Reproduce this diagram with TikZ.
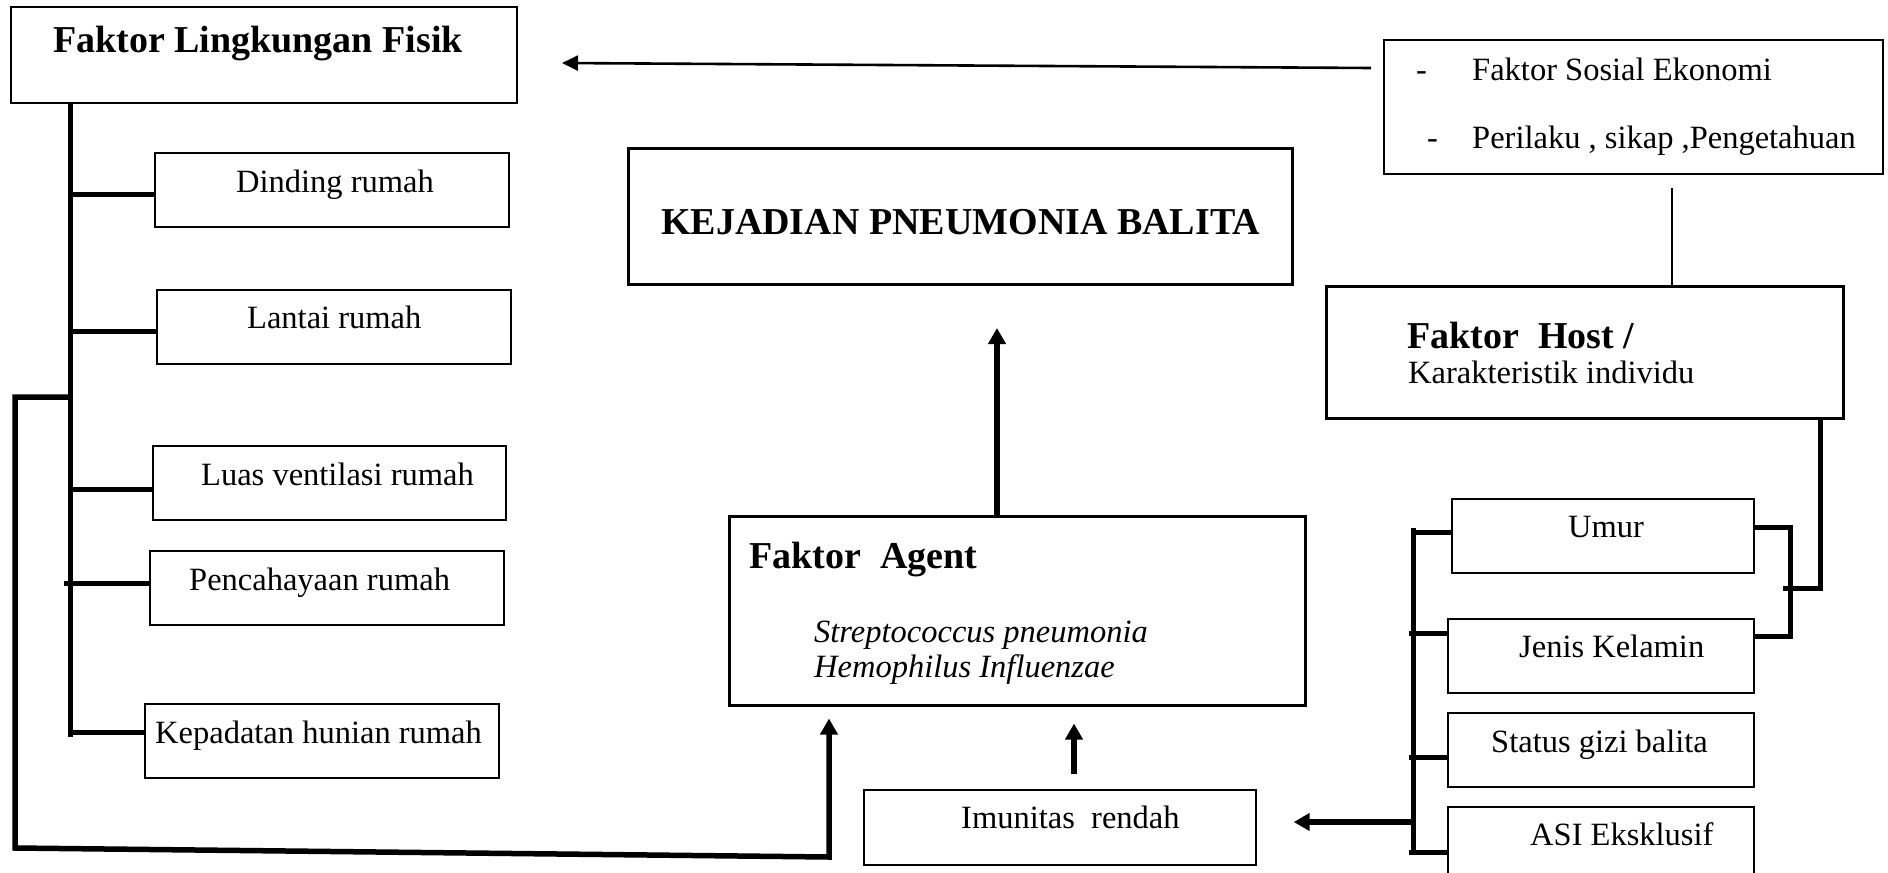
\documentclass[tikz,border=0pt]{standalone}
\usepackage{fontspec}
\setmainfont{Liberation Serif}
\usetikzlibrary{arrows.meta}
\begin{document}
\begin{tikzpicture}[x=1pt,y=-1pt,
 box/.style={draw,line width=1.4pt,inner sep=0pt},
 bbox/.style={draw,line width=3pt,inner sep=0pt},
 txt/.style={inner sep=0pt,anchor=base west,font=\fontsize{32.5}{39}\selectfont},
 btxt/.style={inner sep=0pt,anchor=base west,font=\fontsize{38}{45}\selectfont\bfseries},
 itxt/.style={inner sep=0pt,anchor=base west,font=\fontsize{32.5}{39}\selectfont\itshape},
 conn/.style={line width=5pt},
 arr/.style={line width=5.5pt,-{Triangle[length=16pt,width=17pt]}},
 tarr/.style={line width=2.6pt,-{Triangle[length=16pt,width=15pt]}},
 tline/.style={line width=2pt}]
\useasboundingbox (0,0) rectangle (1888,873);
\fill[white] (0,0) rectangle (1888,873);
\clip (0,0) rectangle (1888,873);

% boxes
\node[box,minimum width=506pt,minimum height=96pt] (flf) at (264,55) {};
\node[box,minimum width=354pt,minimum height=74pt] (din) at (332,190) {};
\node[box,minimum width=354pt,minimum height=74pt] (lan) at (334,327) {};
\node[box,minimum width=353pt,minimum height=74pt] (luas) at (329.5,483) {};
\node[box,minimum width=354pt,minimum height=74pt] (pen) at (327,588) {};
\node[box,minimum width=354pt,minimum height=74pt] (kep) at (322,741) {};
\node[bbox,minimum width=664pt,minimum height=136pt] (kej) at (960,216) {};
\node[bbox,minimum width=576pt,minimum height=189pt] (agent) at (1017,610.5) {};
\node[box,minimum width=392pt,minimum height=75pt] (imun) at (1060,827.5) {};
\node[box,minimum width=499pt,minimum height=134pt] (sos) at (1633.5,107) {};
\node[bbox,minimum width=517pt,minimum height=132pt] (host) at (1584.5,352) {};
\node[box,minimum width=302pt,minimum height=74pt] (umur) at (1603,536) {};
\node[box,minimum width=306pt,minimum height=74pt] (jenis) at (1601,656) {};
\node[box,minimum width=306pt,minimum height=74pt] (status) at (1601,750) {};
\node[box,minimum width=306pt,minimum height=74pt] (asi) at (1601,844) {};

% texts
\node[btxt] (tflf) at (53,52) {Faktor Lingkungan Fisik};
\node[txt] (tdin) at (236,192) {Dinding rumah};
\node[txt] (tlan) at (247,328) {Lantai rumah};
\node[txt] (tluas) at (201,485) {Luas ventilasi rumah};
\node[txt] (tpen) at (189,590) {Pencahayaan rumah};
\node[txt] (tkep) at (155,743) {Kepadatan hunian rumah};
\node[btxt] (tkej) at (661,234) {KEJADIAN PNEUMONIA BALITA};
\node[btxt] (tag) at (749,568) {Faktor~ Agent};
\node[itxt] (tag1) at (814,642) {Streptococcus pneumonia};
\node[itxt] (tag2) at (814,677) {Hemophilus Influenzae};
\node[txt] (timun) at (961,828) {Imunitas~ rendah};
\node[txt] (td1) at (1416,80) {-};
\node[txt] (tsos1) at (1472,80) {Faktor Sosial Ekonomi};
\node[txt] (td2) at (1427,148) {-};
\node[txt] (tsos2) at (1472,148) {Perilaku , sikap ,Pengetahuan};
\node[btxt] (thost) at (1407,348) {Faktor~ Host /};
\node[txt] (thost2) at (1408,383) {Karakteristik individu};
\node[txt] (tumur) at (1568,537) {Umur};
\node[txt] (tjen) at (1519,657) {Jenis Kelamin};
\node[txt] (tstat) at (1491,752) {Status gizi balita};
\node[txt] (tasi) at (1530,845) {ASI Eksklusif};

% left trunk and branches
\coordinate (tb) at (70,737);
\draw[conn] (flf.south -| tb) -- (tb);
\coordinate (jd) at (70,194);
\coordinate (jl) at (70,331);
\coordinate (jv) at (70,489);
\coordinate (jp) at (64,583);
\coordinate (jk) at (70,732);
\draw[conn] (jd) -- (jd -| din.west);
\draw[conn] (jl) -- (jl -| lan.west);
\draw[conn] (jv) -- (jv -| luas.west);
\draw[conn] (jp) -- (jp -| pen.west);
\draw[conn] (jk) -- (jk -| kep.west);

% left bracket to agent
\coordinate (lb1) at (70,397);
\coordinate (lb2) at (15,397);
\coordinate (lb3) at (15,848);
\coordinate (lb4) at (829,857);
\draw[arr] (lb1) -- (lb2) -- (lb3) -- (lb4) -- ([yshift=-12pt]agent.south -| lb4);

% agent to kejadian
\coordinate (kt) at (997,328);
\draw[arr] (agent.north -| kt) -- (kt);

% imunitas to agent
\coordinate (mx) at (1074,0);
\draw[arr,shorten <=15pt,shorten >=17pt] (imun.north -| mx) -- (agent.south -| mx);

% sosial to faktor lingkungan
\coordinate (sa) at (1371,68);
\coordinate (fa) at (562,63);
\draw[tarr] (sa) -- (fa);

% sosial to host
\coordinate (sh) at (1672,188);
\draw[tline] (sh) -- (sh |- host.north);

% host to umur/jenis bracket
\coordinate (hx) at (1820,588);
\coordinate (hl) at (1783,588);
\draw[conn] (host.south -| hx) -- (hx) -- (hl);
\coordinate (ub) at (1790,527);
\coordinate (jb) at (1790,636);
\draw[conn] (umur.east |- ub) -- (ub) -- (jb) -- (jenis.east |- jb);

% right bracket
\coordinate (rt) at (1413,528);
\coordinate (rb) at (1413,854);
\draw[conn] (rt) -- (rb);
\coordinate (ju) at (1413,532);
\coordinate (jj) at (1409,633);
\coordinate (js) at (1409,757);
\coordinate (ja) at (1409,852);
\draw[conn] (ju) -- (ju -| umur.west);
\draw[conn] (jj) -- (jj -| jenis.west);
\draw[conn] (js) -- (js -| status.west);
\draw[conn] (ja) -- (ja -| asi.west);

% right bracket to imunitas
\coordinate (ri) at (1413,822);
\draw[arr,shorten >=37pt] (ri) -- (ri -| imun.east);
\end{tikzpicture}
\end{document}
